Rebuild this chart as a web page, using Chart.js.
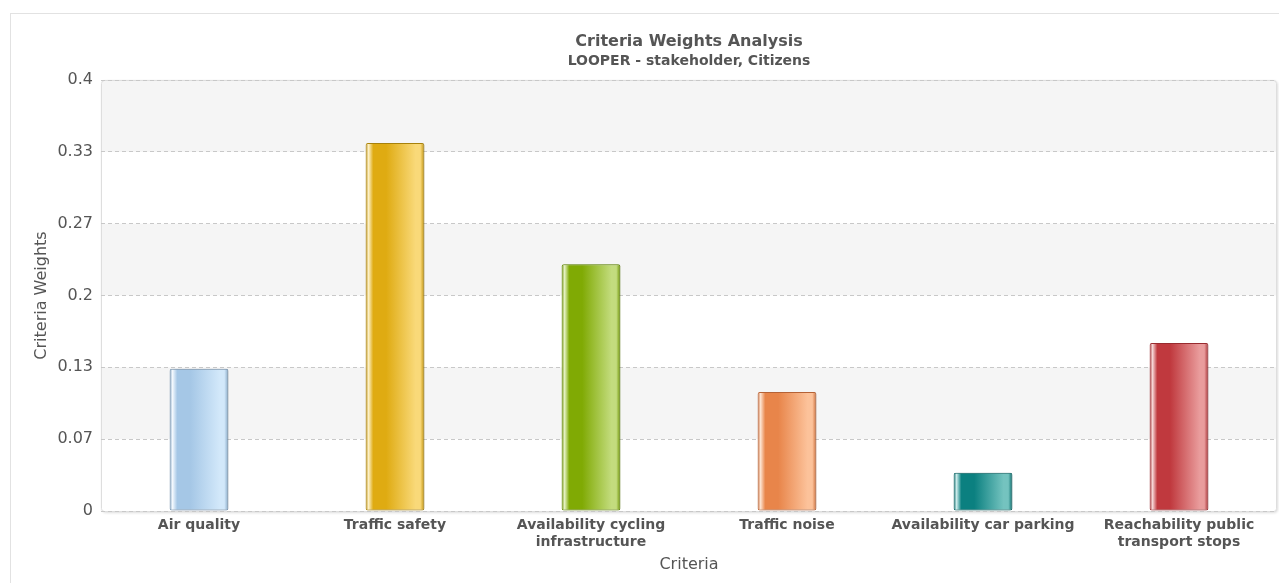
<!DOCTYPE html>
<html>
<head>
<meta charset="utf-8">
<script src="https://cdn.jsdelivr.net/npm/chart.js@4.4.1/dist/chart.umd.min.js"></script>
<style>
  html, body { margin: 0; padding: 0; background: #fff; width: 1279px; height: 583px; overflow: hidden; }
  #card { position: absolute; left: 10px; top: 13px; width: 1290px; height: 600px; border: 1px solid #e2e2e2; box-sizing: border-box; }
  #wrap { position: absolute; left: 0; top: 0; width: 1279px; height: 583px; }
</style>
</head>
<body>
<div id="card"></div>
<div id="wrap"><canvas id="c" width="1279" height="583"></canvas></div>
<script>
// ---- data ----
const categories = ['Air quality', 'Traffic safety', 'Availability cycling infrastructure', 'Traffic noise', 'Availability car parking', 'Reachability public transport stops'];
const xTickLabels = [['Air quality'], ['Traffic safety'], ['Availability cycling', 'infrastructure'], ['Traffic noise'], ['Availability car parking'], ['Reachability public', 'transport stops']];
const weights = [0.132, 0.3415, 0.229, 0.1105, 0.0355, 0.156];
const yTickLabels = ['0', '0.07', '0.13', '0.2', '0.27', '0.33', '0.4'];
const yMin = 0;
const yMax = 0.4;

// ---- styles ----
const palette = [
  { base: '#a5c7e6', light: '#d2e8fa', hi: '#f4f9fe', edge: '#86a8c6', border: '#7f9dba' },
  { base: '#dfab12', light: '#f9d979', hi: '#fdf1c8', edge: '#c0920e', border: '#b58c0c' },
  { base: '#80aa04', light: '#c3dc7e', hi: '#e6f2c4', edge: '#6e9404', border: '#689004' },
  { base: '#e8854a', light: '#fcc29a', hi: '#fde3d0', edge: '#cc6f3c', border: '#c46a3a' },
  { base: '#0b8080', light: '#74c3bf', hi: '#cdeceb', edge: '#0a6c6c', border: '#0a6868' },
  { base: '#c0393e', light: '#e99c9c', hi: '#f6d7d7', edge: '#a83236', border: '#a52f33' }
];
const FONT = "'DejaVu Sans', sans-serif";
const TEXT = '#555555';

function barFill(c) {
  const p = palette[c.dataIndex % palette.length];
  const chart = c.chart;
  const xs = chart.scales && chart.scales.x;
  if (!chart.chartArea || !xs || c.type !== 'data') return p.base;
  const cx = xs.getPixelForValue(c.dataIndex);
  const w = xs.width / categories.length * 0.3;
  const g = chart.ctx.createLinearGradient(cx - w / 2, 0, cx + w / 2, 0);
  g.addColorStop(0, p.edge);
  g.addColorStop(0.05, p.hi);
  g.addColorStop(0.13, p.base);
  g.addColorStop(0.35, p.base);
  g.addColorStop(0.85, p.light);
  g.addColorStop(0.93, p.light);
  g.addColorStop(1, p.edge);
  return g;
}

function roundRectPath(ctx, x, y, w, h, r) {
  ctx.beginPath();
  ctx.moveTo(x + r, y);
  ctx.lineTo(x + w - r, y);
  ctx.arcTo(x + w, y, x + w, y + r, r);
  ctx.lineTo(x + w, y + h - r);
  ctx.arcTo(x + w, y + h, x + w - r, y + h, r);
  ctx.lineTo(x + r, y + h);
  ctx.arcTo(x, y + h, x, y + h - r, r);
  ctx.lineTo(x, y + r);
  ctx.arcTo(x, y, x + r, y, r);
  ctx.closePath();
}

const bandsPlugin = {
  id: 'bands',
  beforeDraw(chart) {
    const { ctx, chartArea: a, scales: { y } } = chart;
    const ticks = y.ticks;
    ctx.save();
    // plot frame with soft shadow
    roundRectPath(ctx, a.left + 0.5, a.top + 0.5, a.right - a.left - 1, a.bottom - a.top, 3);
    ctx.shadowColor = 'rgba(0,0,0,0.18)';
    ctx.shadowBlur = 3;
    ctx.shadowOffsetX = 1;
    ctx.shadowOffsetY = 1;
    ctx.fillStyle = '#ffffff';
    ctx.fill();
    ctx.shadowColor = 'transparent';
    ctx.fillStyle = '#f5f5f5';
    for (let i = 1; i + 1 < ticks.length; i += 2) {
      const y0 = y.getPixelForValue(ticks[i].value);
      const y1 = y.getPixelForValue(ticks[i + 1].value);
      ctx.fillRect(a.left + 1, y1, a.right - a.left - 2, y0 - y1);
    }
    roundRectPath(ctx, a.left + 0.5, a.top + 0.5, a.right - a.left - 1, a.bottom - a.top, 3);
    ctx.strokeStyle = '#dedede';
    ctx.lineWidth = 1;
    ctx.stroke();
    ctx.restore();
  }
};

const shadowPlugin = {
  id: 'barShadow',
  beforeDatasetsDraw(chart) {
    const ctx = chart.ctx;
    ctx.save();
    ctx.shadowColor = 'rgba(0,0,0,0.22)';
    ctx.shadowBlur = 3;
    ctx.shadowOffsetX = 1;
    ctx.shadowOffsetY = 0;
  },
  afterDatasetsDraw(chart) {
    chart.ctx.restore();
  }
};

new Chart(document.getElementById('c'), {
  type: 'bar',
  data: {
    labels: categories,
    datasets: [{
      label: 'Criteria Weights',
      data: weights,
      backgroundColor: barFill,
      borderColor: (c) => palette[c.dataIndex % palette.length].border,
      borderWidth: 1,
      borderRadius: 2,
      borderSkipped: false,
      categoryPercentage: 1,
      barPercentage: 0.3
    }]
  },
  options: {
    responsive: false,
    animation: false,
    layout: { padding: { left: 0, right: 2, top: 0, bottom: 0 } },
    plugins: {
      legend: { display: false },
      tooltip: { enabled: false },
      title: {
        display: true,
        fullSize: false,
        text: 'Criteria Weights Analysis',
        color: TEXT,
        font: { family: FONT, size: 16, weight: 'bold', lineHeight: 1.2 },
        padding: { top: 32.4, bottom: 1 }
      },
      subtitle: {
        display: true,
        fullSize: false,
        text: 'LOOPER - stakeholder, Citizens',
        color: TEXT,
        font: { family: FONT, size: 14, weight: 'bold', lineHeight: 1.2 },
        padding: { top: 0, bottom: 10.6 }
      }
    },
    scales: {
      x: {
        grid: { display: false, drawTicks: false },
        border: { display: false },
        ticks: {
          color: TEXT,
          font: { family: FONT, size: 14, weight: 'bold', lineHeight: 1.21 },
          padding: 5.5,
          maxRotation: 0,
          autoSkip: false,
          callback: (v, i) => xTickLabels[i]
        },
        title: {
          display: true,
          text: 'Criteria',
          color: TEXT,
          font: { family: FONT, size: 16, lineHeight: 1.2 },
          padding: { top: 0, bottom: 8.4 }
        },
        afterFit: (s) => { s.height = 72; }
      },
      y: {
        min: yMin,
        max: yMax,
        grid: {
          color: '#c8c8c8',
          lineWidth: 1,
          drawTicks: false
        },
        border: { display: false, dash: [4, 3] },
        ticks: {
          count: yTickLabels.length,
          color: TEXT,
          font: { family: FONT, size: 16 },
          padding: 8,
          callback: (v, i) => yTickLabels[i]
        },
        title: {
          display: true,
          text: 'Criteria Weights',
          color: TEXT,
          font: { family: FONT, size: 16, lineHeight: 1.2 },
          padding: { top: 32.4, bottom: 0 }
        },
        afterFit: (s) => { s.width = 101; }
      }
    }
  },
  plugins: [bandsPlugin, shadowPlugin]
});
</script>
</body>
</html>
